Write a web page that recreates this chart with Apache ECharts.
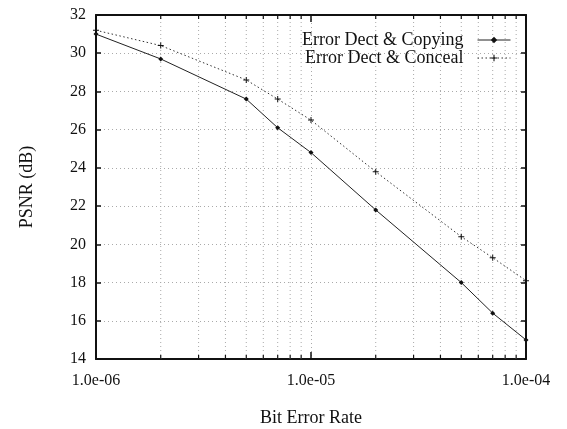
<!DOCTYPE html>
<html>
<head>
<meta charset="utf-8">
<script src="https://cdn.jsdelivr.net/npm/echarts@6/dist/echarts.min.js"></script>
<style>html,body{margin:0;padding:0;background:#fff}#c{width:567px;height:429px}</style>
</head>
<body>
<div id="c"></div>
<script>
const ber = [1e-6, 2e-6, 5e-6, 7e-6, 1e-5, 2e-5, 5e-5, 7e-5, 1e-4];
const copying = [31.0, 29.7, 27.6, 26.1, 24.8, 21.8, 18.0, 16.4, 15.0];
const conceal = [31.2, 30.4, 28.6, 27.6, 26.5, 23.8, 20.4, 19.3, 18.1];
const minorX = [2e-6,3e-6,4e-6,5e-6,6e-6,7e-6,8e-6,9e-6,2e-5,3e-5,4e-5,5e-5,6e-5,7e-5,8e-5,9e-5];
const yTicks = {min: 14, max: 32, interval: 2};
const seriesNames = ['Error Dect & Copying', 'Error Dect & Conceal'];

const FONT = '"Liberation Serif", "DejaVu Serif", serif';
const chart = echarts.init(document.getElementById('c'));
const plus = 'path://M4,0h1.6v4h4v1.6h-4v4h-1.6v-4h-4v-1.6h4z';

function fmtExp(v) {
  const e = Math.round(Math.log10(v));
  const m = v / Math.pow(10, e);
  const s = e < 0 ? '-' : '+';
  return m.toFixed(1) + 'e' + s + String(Math.abs(e)).padStart(2, '0');
}

chart.setOption({
  animation: false,
  backgroundColor: '#fff',
  textStyle: {fontFamily: FONT},
  grid: {left: 96, right: 41, top: 15, bottom: 70, outerBoundsMode: 'none', containLabel: false},
  legend: {
    orient: 'vertical', right: 51, top: 26, align: 'right',
    itemWidth: 33, itemHeight: 8, itemGap: 0,
    data: seriesNames,
    lineStyle: {width: 1},
    textStyle: {fontFamily: FONT, fontSize: 18, color: '#111', padding: [0, 9, 0, 0]}
  },
  xAxis: [{
    type: 'log', logBase: 10, min: 1e-6, max: 1e-4,
    name: 'Bit Error Rate', nameLocation: 'middle', nameGap: 50,
    nameTextStyle: {fontFamily: FONT, fontSize: 18, color: '#111'},
    axisLine: {lineStyle: {color: '#111', width: 2}},
    axisTick: {inside: true, length: 7, lineStyle: {color: '#111', width: 1.5}},
    axisLabel: {fontFamily: FONT, fontSize: 16, color: '#111', margin: 14, formatter: fmtExp},
    splitLine: {show: true, lineStyle: {color: '#aaa', type: [1, 3], width: 1}},
    minorTick: {show: false}
  }, {
    type: 'log', logBase: 10, min: 1e-6, max: 1e-4, position: 'top',
    axisLine: {lineStyle: {color: '#111', width: 2}},
    axisTick: {inside: true, length: 7, lineStyle: {color: '#111', width: 1.5}},
    axisLabel: {show: false}, splitLine: {show: false}
  }],
  yAxis: [{
    type: 'value', min: yTicks.min, max: yTicks.max, interval: yTicks.interval,
    name: 'PSNR (dB)', nameLocation: 'middle', nameGap: 60,
    nameTextStyle: {fontFamily: FONT, fontSize: 18, color: '#111'},
    axisLine: {show: true, lineStyle: {color: '#111', width: 2}},
    axisTick: {show: true, inside: true, length: 5, lineStyle: {color: '#111', width: 1.5}},
    axisLabel: {fontFamily: FONT, fontSize: 16, color: '#111', margin: 10},
    splitLine: {show: true, lineStyle: {color: '#aaa', type: [1, 3], width: 1}}
  }, {
    type: 'value', min: yTicks.min, max: yTicks.max, interval: yTicks.interval, position: 'right',
    axisLine: {show: true, lineStyle: {color: '#111', width: 2}},
    axisTick: {show: true, inside: true, length: 5, lineStyle: {color: '#111', width: 1.5}},
    axisLabel: {show: false}, splitLine: {show: false}
  }],
  series: [{
    type: 'custom', silent: true, xAxisIndex: 0, yAxisIndex: 0, z: 1,
    data: minorX.map(v => [v, yTicks.min]),
    encode: {x: 0, y: 1},
    renderItem: function (params, api) {
      const v = api.value(0);
      const b = api.coord([v, yTicks.min]);
      const t = api.coord([v, yTicks.max]);
      return {type: 'group', children: [
        {type: 'line', shape: {x1: b[0], y1: b[1], x2: t[0], y2: t[1]},
         style: {stroke: '#aaa', lineWidth: 1, lineDash: [1, 3]}},
        {type: 'line', shape: {x1: b[0], y1: b[1], x2: b[0], y2: b[1] - 4},
         style: {stroke: '#111', lineWidth: 1.2}},
        {type: 'line', shape: {x1: t[0], y1: t[1], x2: t[0], y2: t[1] + 4},
         style: {stroke: '#111', lineWidth: 1.2}}
      ]};
    }
  }, {
    name: seriesNames[0], type: 'line', z: 3,
    data: ber.map((x, i) => [x, copying[i]]),
    symbol: 'diamond', symbolSize: 5,
    lineStyle: {color: '#222', width: 1},
    itemStyle: {color: '#111'}
  }, {
    name: seriesNames[1], type: 'line', z: 3,
    data: ber.map((x, i) => [x, conceal[i]]),
    symbol: plus, symbolSize: 6,
    lineStyle: {color: '#333', width: 1, type: [1.5, 2.5]},
    itemStyle: {color: '#111'}
  }]
});
</script>
</body>
</html>
